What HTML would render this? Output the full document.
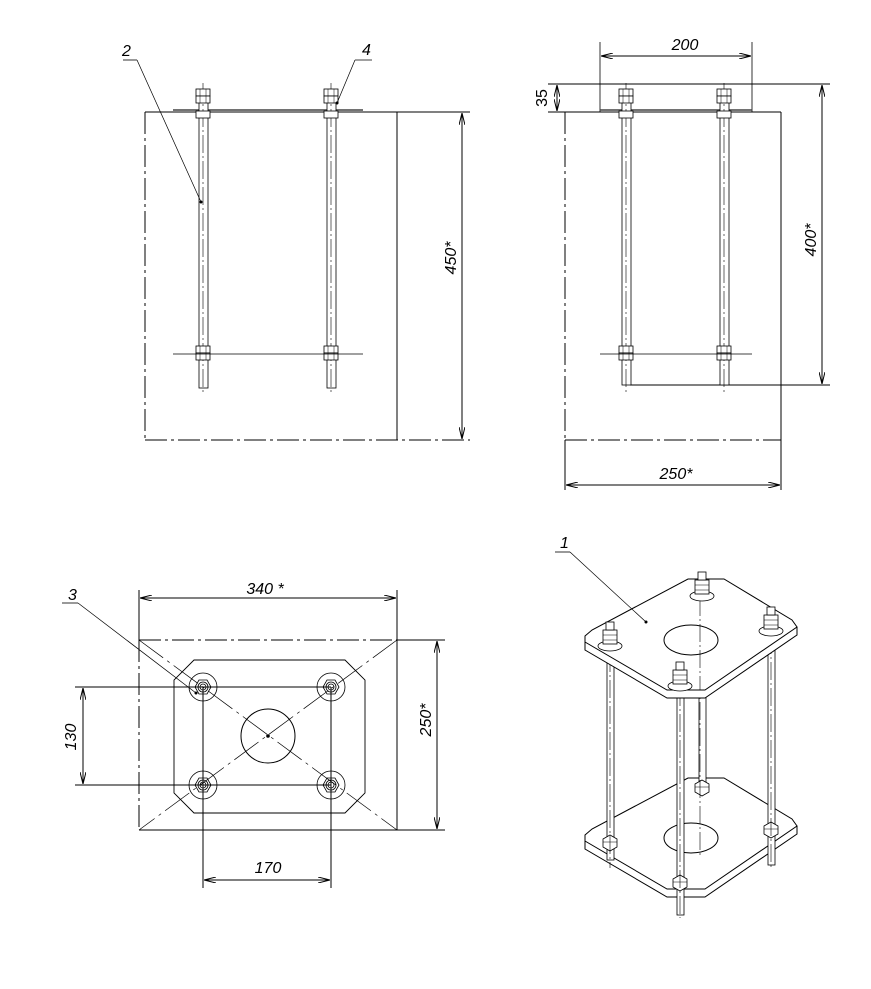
<!DOCTYPE html>
<html><head><meta charset="utf-8"><style>
html,body{margin:0;padding:0;background:#fff}
svg{display:block}
text{font-family:"Liberation Sans",sans-serif;font-style:italic;font-size:16px;fill:#000}
</style></head><body>
<svg width="871" height="989" viewBox="0 0 871 989" xmlns="http://www.w3.org/2000/svg">
<defs>
<marker id="a" markerWidth="12" markerHeight="6" refX="12" refY="3" orient="auto-start-reverse" markerUnits="userSpaceOnUse"><path d="M0,0 L12,3 L0,6" fill="none" stroke="#000" stroke-width="1"/></marker>
<g id="nutv"><rect x="-7" y="0" width="14" height="7" fill="#fff" stroke="#000" stroke-width="0.8"/><rect x="-7" y="7" width="14" height="7" fill="#fff" stroke="#000" stroke-width="0.8"/><line x1="-3" y1="0" x2="-3" y2="14" stroke="#000" stroke-width="0.5"/><line x1="3" y1="0" x2="3" y2="14" stroke="#000" stroke-width="0.5"/></g>
<g id="bolt">
<circle r="14" fill="none" stroke="#000" stroke-width="0.8"/>
<polygon points="8,0 4,7 -4,7 -8,0 -4,-7 4,-7" fill="none" stroke="#000" stroke-width="0.8"/>
<circle r="5" fill="none" stroke="#000" stroke-width="0.8"/>
<circle r="3" fill="none" stroke="#000" stroke-width="0.8"/>
</g>
<g id="inut"><path d="M-7,-4 L-7,4 L0,8 L7,4 L7,-4 L0,-8 Z" fill="#fff" stroke="#000" stroke-width="0.8"/><line x1="-7" y1="-1" x2="7" y2="-1" stroke="#000" stroke-width="0.5"/></g>
<g id="tnut"><ellipse cx="0" cy="6" rx="12" ry="5" fill="#fff" stroke="#000" stroke-width="0.8"/><rect x="-7" y="-10" width="14" height="14" fill="#fff" stroke="#000" stroke-width="0.8"/><line x1="-7" y1="-5" x2="7" y2="-5" stroke="#000" stroke-width="0.5"/><line x1="-7" y1="0" x2="7" y2="0" stroke="#000" stroke-width="0.5"/><rect x="-4" y="-18" width="8" height="8" fill="#fff" stroke="#000" stroke-width="0.8"/></g>
</defs>
<g fill="none" stroke="#000" stroke-width="1">
<!-- TOP-LEFT VIEW -->
<line x1="145" y1="112" x2="470" y2="112"/>
<line x1="145" y1="440" x2="470" y2="440" stroke-dasharray="22,4,3,4"/>
<line x1="145" y1="112" x2="145" y2="440" stroke-dasharray="22,4,3,4"/>
<line x1="397" y1="112" x2="397" y2="440"/>
<line x1="462" y1="113" x2="462" y2="439" marker-start="url(#a)" marker-end="url(#a)"/>
<line x1="173" y1="110" x2="363" y2="110" stroke-width="1.4" stroke="#444"/>
<g stroke-width="0.8">
<rect x="199" y="90" width="9" height="298" fill="#fff"/>
<rect x="327" y="90" width="9" height="298" fill="#fff"/>
</g>
<line x1="203" y1="83" x2="203" y2="392" stroke-dasharray="18,3,2,3" stroke-width="0.6"/>
<line x1="331" y1="83" x2="331" y2="392" stroke-dasharray="18,3,2,3" stroke-width="0.6"/>
<use href="#nutv" x="203" y="89"/><use href="#nutv" x="331" y="89"/>
<rect x="196" y="111" width="14" height="7" fill="#fff" stroke-width="0.8"/><rect x="324" y="111" width="14" height="7" fill="#fff" stroke-width="0.8"/>
<use href="#nutv" x="203" y="346"/><use href="#nutv" x="331" y="346"/>
<line x1="173" y1="354" x2="363" y2="354" stroke-width="0.8"/>
<line x1="123" y1="60" x2="137" y2="60" stroke-width="0.8"/>
<line x1="137" y1="60" x2="201" y2="202" stroke-width="0.7"/>
<line x1="355" y1="60" x2="372" y2="60" stroke-width="0.8"/>
<line x1="355" y1="60" x2="337" y2="103" stroke-width="0.7"/>
</g>
<circle cx="201" cy="202" r="1.5"/><circle cx="337" cy="103" r="1.5"/>
<text x="122" y="56">2</text><text x="362" y="55">4</text>
<text transform="translate(456,258) rotate(-90)" text-anchor="middle">450*</text>

<!-- TOP-RIGHT VIEW -->
<g fill="none" stroke="#000" stroke-width="1">
<line x1="548" y1="84" x2="830" y2="84"/>
<line x1="548" y1="112" x2="781" y2="112"/>
<line x1="565" y1="440" x2="781" y2="440" stroke-dasharray="22,4,3,4"/>
<line x1="565" y1="112" x2="565" y2="490" stroke-dasharray="22,4,3,4"/>
<line x1="565" y1="440" x2="565" y2="490"/>
<line x1="781" y1="112" x2="781" y2="490"/>
<line x1="600" y1="42" x2="600" y2="112" stroke-width="0.8"/>
<line x1="752" y1="42" x2="752" y2="112" stroke-width="0.8"/>
<line x1="601" y1="56" x2="751" y2="56" marker-start="url(#a)" marker-end="url(#a)"/>
<line x1="557" y1="85" x2="557" y2="111" marker-start="url(#a)" marker-end="url(#a)"/>
<line x1="822" y1="85" x2="822" y2="384" marker-start="url(#a)" marker-end="url(#a)"/>
<line x1="630" y1="385" x2="830" y2="385"/>
<line x1="566" y1="485" x2="780" y2="485" marker-start="url(#a)" marker-end="url(#a)"/>
<line x1="600" y1="110" x2="752" y2="110" stroke-width="1.4" stroke="#444"/>
<rect x="622" y="90" width="9" height="295" fill="#fff" stroke-width="0.8"/>
<rect x="720" y="90" width="9" height="295" fill="#fff" stroke-width="0.8"/>
<line x1="626" y1="83" x2="626" y2="392" stroke-dasharray="18,3,2,3" stroke-width="0.6"/>
<line x1="724" y1="83" x2="724" y2="392" stroke-dasharray="18,3,2,3" stroke-width="0.6"/>
<use href="#nutv" x="626" y="89"/><use href="#nutv" x="724" y="89"/>
<rect x="619" y="111" width="14" height="7" fill="#fff" stroke-width="0.8"/><rect x="717" y="111" width="14" height="7" fill="#fff" stroke-width="0.8"/>
<use href="#nutv" x="626" y="346"/><use href="#nutv" x="724" y="346"/>
<line x1="600" y1="354" x2="752" y2="354" stroke-width="0.8"/>
</g>
<text x="685" y="50" text-anchor="middle">200</text>
<text transform="translate(547,98) rotate(-90)" text-anchor="middle" style="font-style:normal">35</text>
<text transform="translate(816,240) rotate(-90)" text-anchor="middle">400*</text>
<text x="676" y="479" text-anchor="middle">250*</text>

<!-- BOTTOM-LEFT VIEW -->
<g fill="none" stroke="#000" stroke-width="1">
<line x1="139" y1="640" x2="397" y2="640" stroke-dasharray="22,4,3,4"/>
<line x1="139" y1="640" x2="139" y2="830" stroke-dasharray="22,4,3,4"/>
<line x1="139" y1="830" x2="445" y2="830"/>
<line x1="397" y1="640" x2="445" y2="640"/>
<line x1="397" y1="590" x2="397" y2="830"/>
<line x1="139" y1="590" x2="139" y2="640"/>
<line x1="140" y1="598" x2="396" y2="598" marker-start="url(#a)" marker-end="url(#a)"/>
<line x1="437" y1="641" x2="437" y2="829" marker-start="url(#a)" marker-end="url(#a)"/>
<g stroke-width="0.7" stroke-dasharray="30,5,3,5">
<line x1="139" y1="640" x2="397" y2="830"/>
<line x1="397" y1="640" x2="139" y2="830"/>
</g>
<path d="M194,660 L345,660 L365,680 L365,793 L345,813 L194,813 L174,793 L174,680 Z" stroke-width="0.9"/>
<circle cx="268" cy="736" r="27"/>
<line x1="75" y1="687" x2="331" y2="687"/>
<line x1="75" y1="785" x2="331" y2="785"/>
<line x1="83" y1="688" x2="83" y2="784" marker-start="url(#a)" marker-end="url(#a)"/>
<line x1="203" y1="687" x2="203" y2="888"/>
<line x1="331" y1="687" x2="331" y2="888"/>
<line x1="204" y1="880" x2="330" y2="880" marker-start="url(#a)" marker-end="url(#a)"/>
<use href="#bolt" x="203" y="687"/><use href="#bolt" x="331" y="687"/>
<use href="#bolt" x="203" y="785"/><use href="#bolt" x="331" y="785"/>
<line x1="62" y1="603" x2="78" y2="603" stroke-width="0.8"/>
<line x1="78" y1="603" x2="196" y2="693" stroke-width="0.7"/>
</g>
<circle cx="268" cy="736" r="1.8"/><circle cx="196" cy="693" r="1.5"/>
<text x="265" y="594" text-anchor="middle">340 *</text>
<text x="68" y="600">3</text>
<text transform="translate(431,720) rotate(-90)" text-anchor="middle">250*</text>
<text transform="translate(76,737) rotate(-90)" text-anchor="middle">130</text>
<text x="268" y="873" text-anchor="middle">170</text>

<!-- ISOMETRIC -->
<g fill="none" stroke="#000" stroke-width="1">
<!-- bottom plate -->
<path d="M585,841 L585,849 L667,897 L705,897 L797,834 L797,826 Z" fill="#fff"/>
<path d="M585,835 L592,829 L688,778 L724,778 L792,819 L797,826 L705,889 L667,889 L585,841 Z" fill="#fff"/>
<ellipse cx="691" cy="838" rx="27" ry="15"/>
<!-- rods -->
<g stroke-width="0.8" fill="#fff">
<rect x="699" y="595" width="7" height="193"/>
<rect x="607" y="648" width="7" height="212"/>
<rect x="768" y="633" width="7" height="232"/>
<rect x="677" y="690" width="7" height="225"/>
</g>
<use href="#inut" x="702" y="788"/><use href="#inut" x="610" y="843"/>
<use href="#inut" x="771" y="830"/><use href="#inut" x="680" y="883"/>
<g stroke-width="0.6" stroke-dasharray="18,3,2,3">
<line x1="700" y1="572" x2="700" y2="855"/>
<line x1="610" y1="628" x2="610" y2="868"/>
<line x1="771" y1="610" x2="771" y2="868"/>
<line x1="680" y1="662" x2="680" y2="918"/>
</g>
<!-- top plate -->
<path d="M585,642 L585,650 L667,698 L705,698 L797,635 L797,627 Z" fill="#fff"/>
<path d="M585,636 L592,630 L688,579 L724,579 L792,620 L797,627 L705,690 L667,690 L585,642 Z" fill="#fff"/>
<ellipse cx="691" cy="640" rx="27" ry="15"/>
<line x1="700" y1="572" x2="700" y2="690" stroke-width="0.6" stroke-dasharray="18,3,2,3"/>
<use href="#tnut" x="702" y="590"/><use href="#tnut" x="610" y="640"/>
<use href="#tnut" x="771" y="625"/><use href="#tnut" x="680" y="680"/>
<line x1="555" y1="552" x2="570" y2="552" stroke-width="0.8"/>
<line x1="570" y1="552" x2="646" y2="622" stroke-width="0.7"/>
</g>
<circle cx="646" cy="622" r="1.5"/>
<text x="560" y="548">1</text>
</svg>
</body></html>
